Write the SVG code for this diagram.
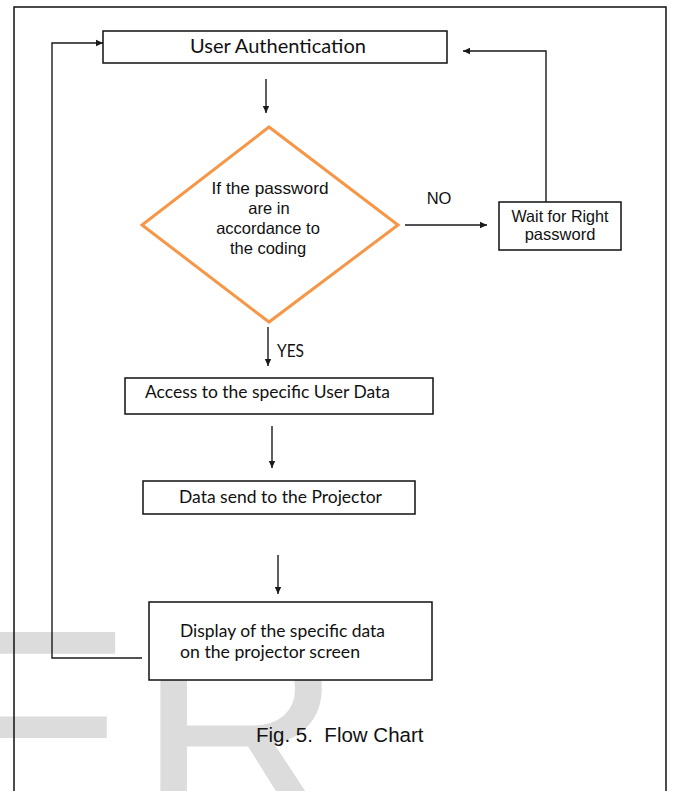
<svg xmlns="http://www.w3.org/2000/svg" width="674" height="791" viewBox="0 0 674 791">
<style>
.box{fill:#fff;stroke:#111;stroke-width:1.5}
.dia{fill:#fff;stroke:#F79646;stroke-width:3}
.cal{font-family:Lato,"Open Sans",sans-serif;fill:#111}
.ari{font-family:"Liberation Sans",Arial,sans-serif;fill:#111;font-size:16.5px}
.wm{font-family:"Liberation Sans",Arial,sans-serif;font-size:285px;fill:#dcdcdc}
.ln{fill:none;stroke:#1a1a1a;stroke-width:1.4}
</style>
<defs>
<marker id="ah" markerUnits="userSpaceOnUse" markerWidth="8" markerHeight="8" refX="7" refY="4" orient="auto">
<path d="M0,0.8 L7,4 L0,7.2 z" fill="#1a1a1a"/>
</marker>
</defs>
<rect width="674" height="791" fill="#fff"/>
<g id="watermark">
<text class="wm" x="-57" y="828">E</text>
<text class="wm" x="137" y="828">R</text>
</g>
<path id="frame" d="M14,791 V7 H666 V791" fill="none" stroke="#111" stroke-width="1.5"/>
<g id="connectors">
<line class="ln" x1="266" y1="79" x2="266" y2="113" marker-end="url(#ah)"/>
<line class="ln" x1="405" y1="225" x2="487" y2="225" marker-end="url(#ah)"/>
<polyline class="ln" points="546,202 546,51 463,51" marker-end="url(#ah)"/>
<line class="ln" x1="268" y1="327" x2="268" y2="366" marker-end="url(#ah)"/>
<line class="ln" x1="272" y1="426" x2="272" y2="468" marker-end="url(#ah)"/>
<line class="ln" x1="278" y1="555" x2="278" y2="594" marker-end="url(#ah)"/>
<polyline class="ln" points="142,658 52,658 52,43 103,43" marker-end="url(#ah)"/>
<text class="ari" x="439" y="204" text-anchor="middle">NO</text>
<text class="cal" x="277" y="357" font-size="16.5" textLength="27" lengthAdjust="spacingAndGlyphs">YES</text>
</g>
<g id="user-auth">
<rect class="box" x="103" y="31" width="344" height="32"/>
<text class="cal" x="190" y="53" font-size="19" textLength="176" lengthAdjust="spacingAndGlyphs">User Authentication</text>
</g>
<g id="decision">
<polygon class="dia" points="269,127 398,225 269,322 142,225"/>
<text class="ari" x="270" y="194" text-anchor="middle" textLength="117" lengthAdjust="spacingAndGlyphs">If the password</text>
<text class="ari" x="269" y="214" text-anchor="middle">are in</text>
<text class="ari" x="268" y="234" text-anchor="middle">accordance to</text>
<text class="ari" x="268" y="254" text-anchor="middle">the coding</text>
</g>
<g id="wait">
<rect class="box" x="499" y="202" width="122" height="48"/>
<text class="ari" x="560" y="222" text-anchor="middle" textLength="97" lengthAdjust="spacingAndGlyphs">Wait for Right</text>
<text class="ari" x="560" y="240" text-anchor="middle">password</text>
</g>
<g id="access">
<rect class="box" x="125" y="378" width="308" height="36"/>
<text class="cal" x="145" y="398" font-size="16.7" textLength="245" lengthAdjust="spacingAndGlyphs">Access to the specific User Data</text>
</g>
<g id="send">
<rect class="box" x="143" y="481" width="272" height="33"/>
<text class="cal" x="179" y="503" font-size="16.7" textLength="203" lengthAdjust="spacingAndGlyphs">Data send to the Projector</text>
</g>
<g id="display">
<rect class="box" x="149" y="602" width="283" height="78"/>
<text class="cal" x="180" y="637" font-size="16.7" textLength="205" lengthAdjust="spacingAndGlyphs">Display of the specific data</text>
<text class="cal" x="180" y="658" font-size="16.7" textLength="180" lengthAdjust="spacingAndGlyphs">on the projector screen</text>
</g>
<text id="caption" x="256" y="742" font-family="Liberation Sans,Arial,sans-serif" font-size="20.5" fill="#111" xml:space="preserve">Fig. 5.  Flow Chart</text>
</svg>
